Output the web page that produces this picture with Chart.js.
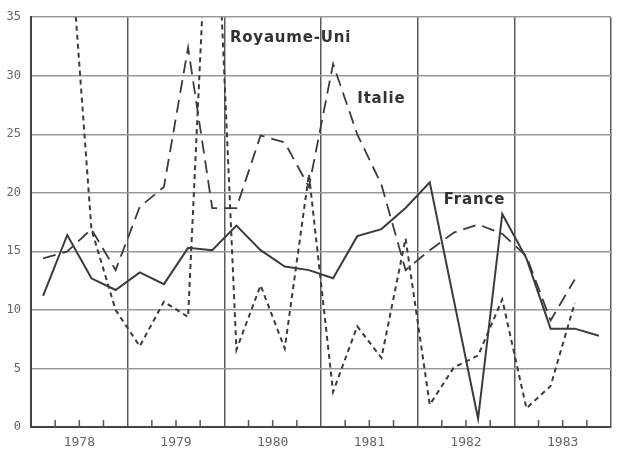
<!DOCTYPE html>
<html>
<head>
<meta charset="utf-8">
<script src="https://cdn.jsdelivr.net/npm/chart.js@4.4.1/dist/chart.umd.min.js"></script>
<style>
    html, body { margin: 0; padding: 0; background: #fff; }
    canvas { display: block; }
</style>
</head>
<body>
<canvas id="chart" width="619" height="449"></canvas>
<script>
// one value per quarter, 1978 T1 .. 1983 T4
const years = ['1978', '1979', '1980', '1981', '1982', '1983'];
const yTicks = [0, 5, 10, 15, 20, 25, 30, 35];

const france = [11.2, 16.4, 12.7, 11.7, 13.2, 12.2, 15.3, 15.1,
                17.2, 15.1, 13.7, 13.4, 12.7, 16.3, 16.9, 18.7,
                20.9, 10.8, 0.7, 18.2, 14.4, 8.4, 8.4, 7.8];
const italie = [14.4, 15.0, 16.9, 13.4, 18.8, 20.5, 32.4, 18.7,
                18.7, 24.9, 24.3, 20.5, 31.0, 25.0, 20.7, 13.4,
                15.1, 16.6, 17.3, 16.5, 14.6, 9.1, 12.6, null];
const royaumeUni = [null, 45, 16.9, 10.0, 6.9, 10.7, 9.4, 53.5,
                    6.6, 12.1, 6.7, 21.6, 3.0, 8.6, 5.9, 16.1,
                    1.9, 5.1, 6.1, 10.9, 1.6, 3.5, 10.6, null];

// where the series names are written (x in quarters, y in %)
const nameSpots = [
    { text: 'Royaume-Uni', x: 8.23, y: 33.2 },
    { text: 'Italie', x: 13.5, y: 28.0 },
    { text: 'France', x: 17.08, y: 19.4 }
];

const toPoints = (arr) => arr.map((v, i) => ({ x: i + 0.5, y: v }));

// small quarter ticks drawn inside the plot, plus the series names
const extras = {
    id: 'extras',
    afterDatasetsDraw(chart) {
        const ctx = chart.ctx;
        const xs = chart.scales.x;
        const ys = chart.scales.y;
        const bottom = chart.chartArea.bottom;
        ctx.save();
        ctx.strokeStyle = '#555';
        ctx.lineWidth = 1.5;
        for (let q = 1; q < years.length * 4; q++) {
            if (q % 4 === 0) continue;
            const px = xs.getPixelForValue(q);
            ctx.beginPath();
            ctx.moveTo(px, bottom);
            ctx.lineTo(px, bottom - 7);
            ctx.stroke();
        }
        ctx.fillStyle = '#333';
        ctx.font = 'bold 15px "DejaVu Sans"';
        ctx.textBaseline = 'middle';
        ctx.textAlign = 'left';
        ctx.letterSpacing = '0.8px';
        nameSpots.forEach(s => {
            ctx.fillText(s.text, xs.getPixelForValue(s.x), ys.getPixelForValue(s.y));
        });
        ctx.restore();
    }
};

const lineColor = '#3b3b3b';

new Chart(document.getElementById('chart'), {
    type: 'line',
    data: {
        datasets: [
            {
                label: 'France',
                data: toPoints(france),
                borderColor: lineColor,
                borderWidth: 2,
                pointRadius: 0,
                tension: 0
            },
            {
                label: 'Italie',
                data: toPoints(italie),
                borderColor: lineColor,
                borderWidth: 1.8,
                borderDash: [13, 7],
                pointRadius: 0,
                tension: 0
            },
            {
                label: 'Royaume-Uni',
                data: toPoints(royaumeUni),
                borderColor: lineColor,
                borderWidth: 2,
                borderDash: [5, 4],
                pointRadius: 0,
                tension: 0,
                spanGaps: false
            }
        ]
    },
    options: {
        responsive: false,
        animation: false,
        layout: { padding: { top: 15, right: 2, left: 0, bottom: 0 } },
        plugins: {
            legend: { display: false },
            tooltip: { enabled: false }
        },
        scales: {
            x: {
                type: 'linear',
                min: 0,
                max: years.length * 4,
                afterBuildTicks: (axis) => {
                    axis.ticks = [];
                    for (let q = 0; q <= years.length * 4; q += 2) axis.ticks.push({ value: q });
                },
                afterFit: (axis) => { axis.height = 22; },
                grid: {
                    color: (c) => (c.tick && c.tick.value % 4 === 0) ? '#5a5a5a' : 'rgba(0,0,0,0)',
                    lineWidth: 1.5,
                    drawTicks: false
                },
                border: { display: true, color: '#444', width: 2 },
                ticks: {
                    autoSkip: false,
                    maxRotation: 0,
                    padding: 8,
                    color: '#666',
                    font: { family: '"DejaVu Sans Mono"', size: 13 },
                    callback: (v) => v % 4 === 2 ? years[(v - 2) / 4] : ''
                }
            },
            y: {
                min: 0,
                max: 35,
                afterBuildTicks: (axis) => { axis.ticks = yTicks.map(v => ({ value: v })); },
                afterFit: (axis) => { axis.width = 31; },
                grid: { color: '#999', lineWidth: 1.5, drawTicks: false },
                border: { display: true, color: '#444', width: 2 },
                ticks: {
                    padding: 10,
                    color: '#666',
                    font: { family: '"DejaVu Sans Mono"', size: 12 }
                }
            }
        }
    },
    plugins: [extras]
});
</script>
</body>
</html>
